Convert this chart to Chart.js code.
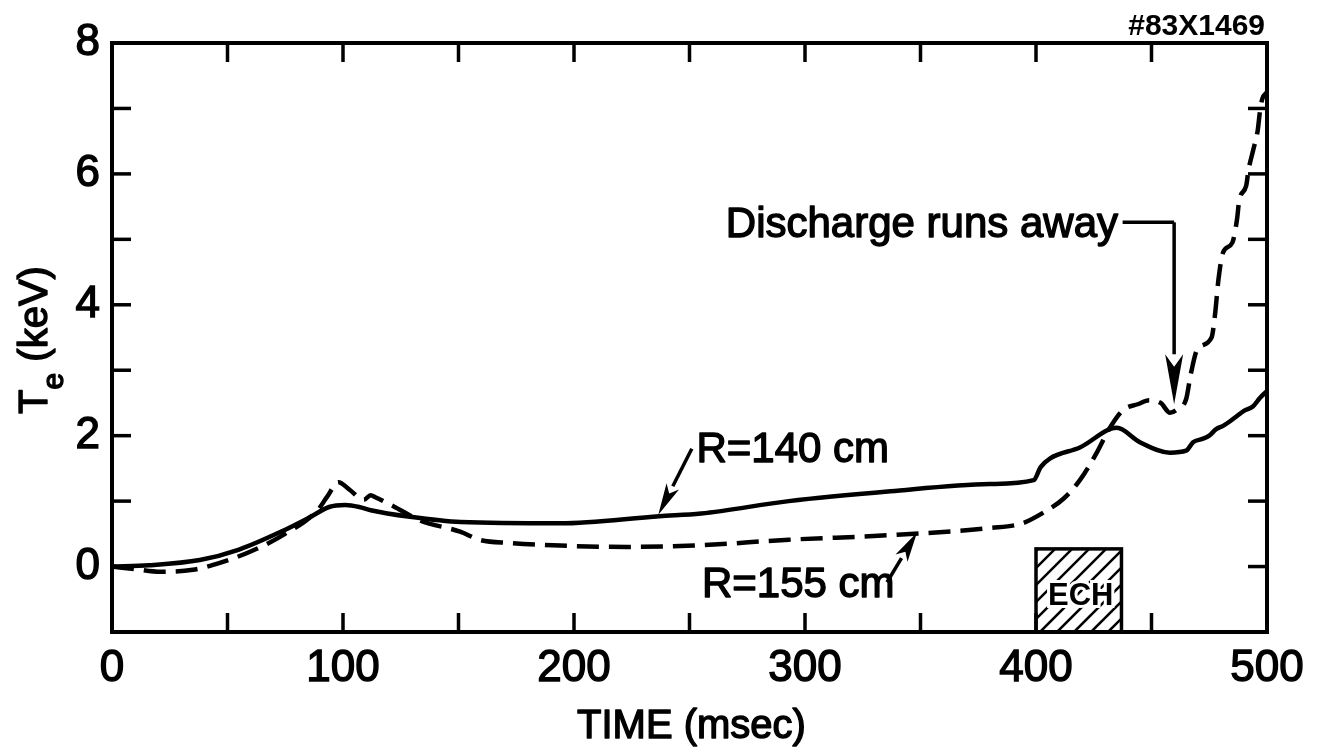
<!DOCTYPE html>
<html><head><meta charset="utf-8">
<script src="https://cdn.jsdelivr.net/npm/chart.js@4.4.0/dist/chart.umd.min.js"></script>
<style>html,body{margin:0;padding:0;background:#fff;}canvas{display:block;}</style>
</head><body>
<canvas id="c" width="1322" height="754"></canvas>
<script>
// ---- data (time in msec, Te in keV) ----
const tR140 = [0, 16, 38, 55, 73, 86, 94, 101, 107, 112, 129, 151, 194, 237, 255, 293, 337, 380, 399, 402, 406, 419, 435, 445, 458, 465, 468, 472, 475, 478, 481, 484, 487, 490, 494, 497, 500];
const teR140 = [0, 0.02, 0.1, 0.26, 0.53, 0.76, 0.91, 0.94, 0.91, 0.86, 0.76, 0.68, 0.66, 0.77, 0.81, 1.0, 1.15, 1.26, 1.32, 1.52, 1.65, 1.82, 2.12, 1.9, 1.74, 1.77, 1.9, 1.95, 2.0, 2.1, 2.15, 2.22, 2.3, 2.38, 2.45, 2.58, 2.68];
const tR155 = [0, 10, 21, 35, 47, 60, 74, 89, 93, 98, 103, 109, 112, 114, 123, 133, 151, 159, 172, 194, 223, 252, 293, 337, 380, 394, 403, 412, 419, 426, 432, 438, 444, 449, 454, 458, 461, 465, 467, 470, 476, 477.5, 479, 481, 485, 487, 488, 491, 492, 494, 496, 497, 498, 500];
const teR155 = [0, -0.04, -0.08, -0.05, 0.06, 0.23, 0.48, 0.86, 1.06, 1.29, 1.17, 1.02, 1.09, 1.06, 0.9, 0.71, 0.53, 0.41, 0.36, 0.32, 0.3, 0.32, 0.41, 0.48, 0.59, 0.66, 0.82, 1.04, 1.32, 1.72, 2.12, 2.4, 2.48, 2.54, 2.5, 2.35, 2.4, 2.56, 2.94, 3.33, 3.5, 3.85, 4.39, 4.8, 4.95, 5.3, 5.6, 5.82, 6.06, 6.36, 6.67, 6.97, 7.15, 7.25];
const xTickLabels = [0, 100, 200, 300, 400, 500];
const yTickLabels = [0, 2, 4, 6, 8];
const xMinorTicks = [50, 100, 150, 200, 250, 300, 350, 400, 450];
const yMinorTicks = [0, 1, 2, 3, 4, 5, 6, 7];
const echTime = [400, 437];
const echTe = [-1, 0.27];
const shotLabel = '#83X1469';

const FONT = '"Liberation Sans", Arial, "DejaVu Sans", sans-serif';

function arrow(ctx, x0, y0, x1, y1, hl, hw) {
  const ang = Math.atan2(y1 - y0, x1 - x0);
  const bx = x1 - hl * Math.cos(ang), by = y1 - hl * Math.sin(ang);
  ctx.beginPath(); ctx.moveTo(x0, y0); ctx.lineTo(bx, by); ctx.stroke();
  const nx = -Math.sin(ang), ny = Math.cos(ang);
  ctx.beginPath();
  ctx.moveTo(x1, y1);
  ctx.lineTo(bx + nx * hw / 2, by + ny * hw / 2);
  ctx.lineTo(bx + Math.cos(ang) * hl * 0.25, by + Math.sin(ang) * hl * 0.25);
  ctx.lineTo(bx - nx * hw / 2, by - ny * hw / 2);
  ctx.closePath(); ctx.fill();
}

// medium-weight text: fill plus thin stroke
function mtext(ctx, s, x, y, sw) {
  ctx.save();
  ctx.lineWidth = sw == null ? 1.4 : sw;
  ctx.strokeStyle = '#000';
  ctx.lineJoin = 'round';
  ctx.fillText(s, x, y);
  ctx.strokeText(s, x, y);
  ctx.restore();
}

const decor = {
  id: 'decor',
  afterDatasetsDraw(chart) {
    const { ctx, chartArea: a, scales: { x, y } } = chart;
    const X = v => x.getPixelForValue(v), Y = v => y.getPixelForValue(v);
    ctx.save();
    ctx.strokeStyle = '#000'; ctx.fillStyle = '#000';
    ctx.lineCap = 'butt';
    // frame
    ctx.lineWidth = 4;
    ctx.strokeRect(a.left, a.top, a.right - a.left, a.bottom - a.top);
    // inward ticks
    ctx.lineWidth = 3.5;
    const TL = 19;
    const seg = (x0, y0, x1, y1) => { ctx.beginPath(); ctx.moveTo(x0, y0); ctx.lineTo(x1, y1); ctx.stroke(); };
    xMinorTicks.forEach(v => { const p = X(v); seg(p, a.bottom, p, a.bottom - TL); seg(p, a.top, p, a.top + TL); });
    yMinorTicks.forEach(v => { const p = Y(v); seg(a.left, p, a.left + TL, p); seg(a.right, p, a.right - TL, p); });

    // ECH box
    const bx0 = X(echTime[0]), bx1 = X(echTime[1]), by0 = Y(echTe[1]), by1 = Y(echTe[0]);
    ctx.save();
    ctx.beginPath(); ctx.rect(bx0, by0, bx1 - bx0, by1 - by0); ctx.clip();
    ctx.lineWidth = 2.5;
    for (let k = -200; k < 200; k += 17) {
      seg(bx0 + k, by1, bx0 + k + (by1 - by0), by0);
    }
    ctx.restore();
    ctx.lineWidth = 3.5;
    ctx.strokeRect(bx0, by0, bx1 - bx0, by1 - by0);
    ctx.font = 'bold 31px ' + FONT;
    ctx.textAlign = 'center'; ctx.textBaseline = 'middle';
    ctx.lineWidth = 6; ctx.strokeStyle = '#fff';
    const ex = (bx0 + bx1) / 2 + 2, ey = Y(-0.45);
    ctx.strokeText('ECH', ex, ey);
    ctx.fillText('ECH', ex, ey);
    ctx.strokeStyle = '#000';

    // Discharge runs away
    ctx.font = '42px ' + FONT;
    ctx.textAlign = 'right'; ctx.textBaseline = 'alphabetic';
    mtext(ctx, 'Discharge runs away', X(435.5), Y(5.03));
    ctx.lineWidth = 3.5;
    ctx.beginPath(); ctx.moveTo(X(437.5), Y(5.26)); ctx.lineTo(X(459.8), Y(5.26)); ctx.stroke();
    arrow(ctx, X(459.8), Y(5.26), X(459.8), Y(2.48), 50, 18);

    // R=140 cm
    ctx.font = '42px ' + FONT;
    ctx.textAlign = 'left';
    mtext(ctx, 'R=140 cm', X(253), Y(1.59));
    ctx.lineWidth = 3.5;
    arrow(ctx, X(251), Y(1.8), X(236.5), Y(0.79), 32, 14);

    // R=155 cm
    mtext(ctx, 'R=155 cm', X(255.4), Y(-0.47));
    ctx.lineWidth = 3.5;
    arrow(ctx, X(335.5), Y(-0.24), X(348.5), Y(0.52), 30, 14);

    // shot number
    ctx.font = 'bold 30px ' + FONT;
    ctx.textAlign = 'right';
    ctx.fillText(shotLabel, a.right - 2, 35);

    // x title
    ctx.font = '40px ' + FONT;
    ctx.textAlign = 'center'; ctx.textBaseline = 'alphabetic';
    mtext(ctx, 'TIME (msec)', (a.left + a.right) / 2 + 2, 738);

    // y title with subscript
    ctx.translate(47, 340);
    ctx.rotate(-Math.PI / 2);
    ctx.textAlign = 'left';
    const f1 = '40px ' + FONT, f2 = '30px ' + FONT;
    ctx.font = f1; const w1 = ctx.measureText('T').width;
    ctx.font = f2; const w2 = ctx.measureText('e').width;
    ctx.font = f1; const w3 = ctx.measureText(' (keV)').width;
    let sx = -(w1 + w2 + w3) / 2;
    ctx.font = f1; mtext(ctx, 'T', sx, 0); sx += w1;
    ctx.font = f2; mtext(ctx, 'e', sx, 16); sx += w2;
    ctx.font = f1; mtext(ctx, ' (keV)', sx, 0);
    ctx.restore();
  }
};

new Chart(document.getElementById('c'), {
  type: 'line',
  data: {
    datasets: [
      {
        label: 'R=140 cm',
        data: tR140.map((t, i) => ({ x: t, y: teR140[i] })),
        borderColor: '#000', borderWidth: 4.5, pointRadius: 0,
        cubicInterpolationMode: 'monotone', fill: false
      },
      {
        label: 'R=155 cm',
        data: tR155.map((t, i) => ({ x: t, y: teR155[i] })),
        borderColor: '#000', borderWidth: 4.5, pointRadius: 0,
        borderDash: [22, 10],
        cubicInterpolationMode: 'monotone', fill: false
      }
    ]
  },
  options: {
    responsive: false,
    devicePixelRatio: 1,
    animation: false,
    layout: { padding: { top: 43, right: 55, left: 0, bottom: 0 } },
    plugins: { legend: { display: false }, tooltip: { enabled: false } },
    scales: {
      x: {
        type: 'linear', position: 'bottom', min: 0, max: 500,
        grid: { display: false, drawTicks: false }, border: { display: false },
        ticks: {
          stepSize: 100, autoSkip: false, maxRotation: 0, padding: 10,
          color: '#000', font: { family: FONT, size: 44 },
          textStrokeColor: '#000', textStrokeWidth: 1.4,
          callback: v => xTickLabels.includes(v) ? String(v) : ''
        },
        afterFit: s => { s.height = 122; }
      },
      y: {
        type: 'linear', min: -1, max: 8,
        grid: { display: false, drawTicks: false }, border: { display: false },
        ticks: {
          stepSize: 1, autoSkip: false, padding: 12,
          color: '#000', font: { family: FONT, size: 44 },
          textStrokeColor: '#000', textStrokeWidth: 1.4,
          callback: v => yTickLabels.includes(v) ? String(v) : ''
        },
        afterFit: s => { s.width = 112; }
      }
    }
  },
  plugins: [decor]
});
</script>
</body></html>
